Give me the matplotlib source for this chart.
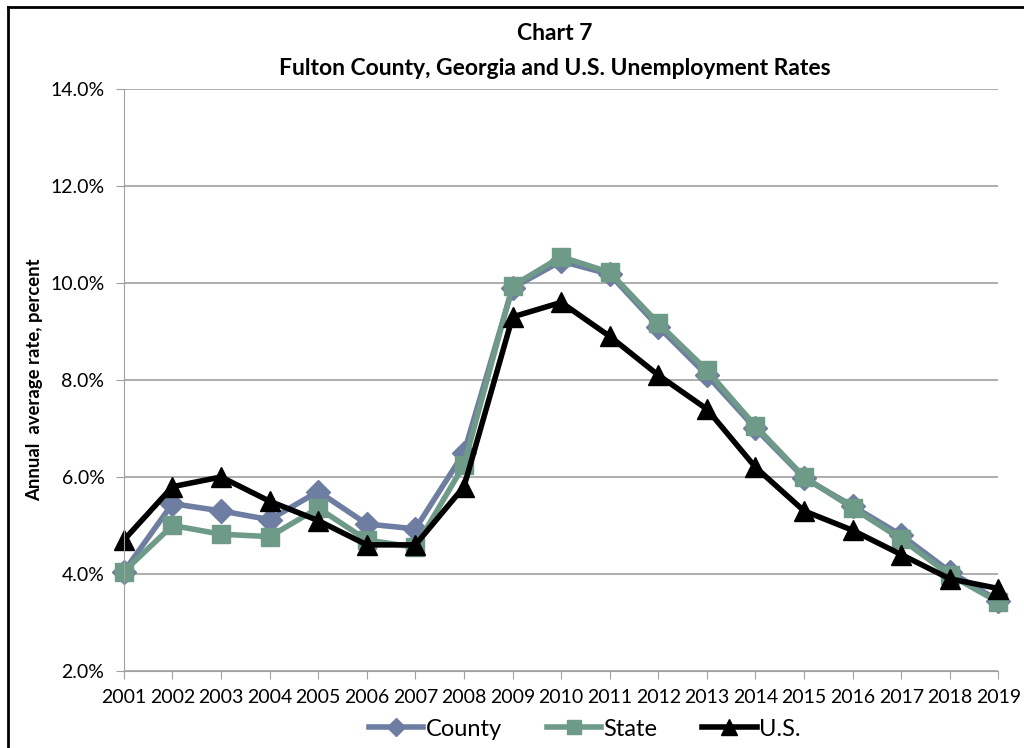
import matplotlib
matplotlib.use("Agg")
import matplotlib.pyplot as plt
from matplotlib.lines import Line2D
from matplotlib.ticker import FuncFormatter

plt.rcParams['font.family'] = ['Lato', 'DejaVu Sans']

# annual average unemployment rates, percent
years = list(range(2001, 2020))
county = [4.05, 5.45, 5.3, 5.12, 5.7, 5.03, 4.93, 6.5, 9.9, 10.45, 10.18, 9.1, 8.1, 7.0, 5.98, 5.4, 4.8, 4.05, 3.45]
state = [4.05, 5.0, 4.82, 4.77, 5.36, 4.7, 4.55, 6.25, 9.94, 10.54, 10.22, 9.17, 8.2, 7.05, 6.0, 5.36, 4.72, 3.98, 3.42]
us = [4.7, 5.8, 6.0, 5.5, 5.1, 4.6, 4.6, 5.8, 9.3, 9.6, 8.9, 8.1, 7.4, 6.2, 5.3, 4.9, 4.4, 3.9, 3.7]
yticks = [2, 4, 6, 8, 10, 12, 14]

county_col = '#6E7DA2'
state_col = '#6E9A88'

fig = plt.figure(figsize=(10.24, 7.48), dpi=100)
ax = fig.add_axes([0.121, 0.103, 0.854, 0.778])

ax.plot(years, county, color=county_col, lw=4, marker='D', ms=12, label='County')
ax.plot(years, state, color=state_col, lw=4, marker='s', ms=13, label='State')
ax.plot(years, us, color='black', lw=4, marker='^', ms=15, label='U.S.')

ax.set_xlim(2001, 2019)
ax.set_ylim(2, 14)
ax.set_xticks(years)
ax.set_yticks(yticks)
ax.yaxis.set_major_formatter(FuncFormatter(lambda v, p: '%.1f%%' % v))
ax.grid(axis='y', color='#A0A0A0', lw=1.2)
ax.set_axisbelow(True)
for s in ['top', 'right']:
    ax.spines[s].set_visible(False)
ax.spines['left'].set_color('#A0A0A0')
ax.spines['bottom'].set_color('#A0A0A0')
ax.tick_params(axis='both', colors='#A0A0A0', labelcolor='black', labelsize=14, length=6)
ax.tick_params(axis='x', pad=7)
ax.tick_params(axis='y', pad=8)
for t in ax.get_xticklabels() + ax.get_yticklabels():
    t.set_clip_on(False)
for l in ax.lines:
    l.set_clip_on(False)

ax.set_ylabel('Annual  average rate, percent', fontsize=13.3, fontweight='bold', labelpad=5)

fig.text(0.542, 0.955, 'Chart 7', ha='center', va='center', fontsize=16.5, fontweight='bold')
fig.text(0.542, 0.908, 'Fulton County, Georgia and U.S. Unemployment Rates', ha='center', va='center',
         fontsize=16.5, fontweight='bold')

ax.legend(loc='center', bbox_to_anchor=(0.527, -0.10), ncol=3, frameon=False, fontsize=17,
          handlelength=2.3, columnspacing=1.9, handletextpad=0.1, markerscale=0.8)

# chart border (top and left edges visible)
fig.add_artist(Line2D([0.008, 1.0], [0.991, 0.991], color='black', lw=2))
fig.add_artist(Line2D([0.008, 0.008], [0.0, 0.991], color='black', lw=2))

fig.savefig('out.png', dpi=100)
